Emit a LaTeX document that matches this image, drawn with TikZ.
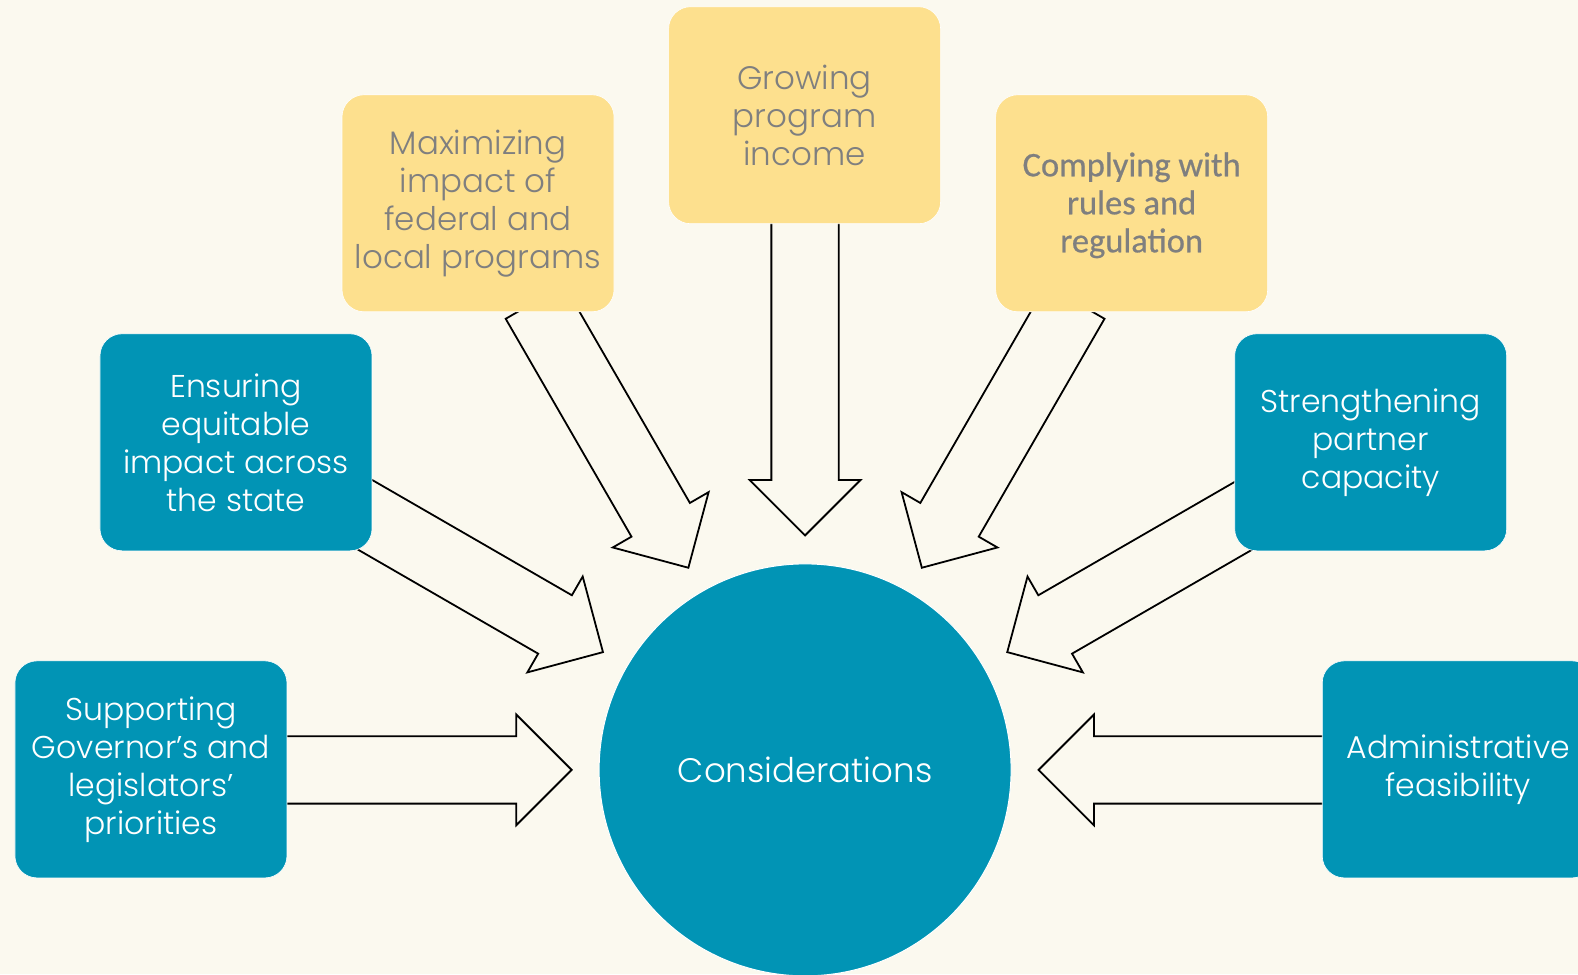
\documentclass[tikz,border=0pt]{standalone}
\usepackage{fontspec}
\setmainfont{Poppins Light}
\newfontfamily\calfont[FakeBold=0.6]{Carlito}
\definecolor{bgc}{HTML}{FBF9EF}
\definecolor{tealc}{HTML}{0194B5}
\definecolor{yelc}{HTML}{FDE08E}
\definecolor{grayt}{HTML}{7F7F7F}
\newcommand\blockarrow[4]{%
  \draw[arrowsty, shift={(#1)}, rotate=-#2]
    (0,-33.5) -- (#3,-33.5) -- (#3,-55) -- (#3+55,0) -- (#3,55) -- (#3,33.5) -- (0,33.5) -- cycle;
  \coordinate (#4) at (#1);}
\tikzset{
  box/.style={rounded corners=22pt, minimum width=272pt, minimum height=217pt, inner sep=0pt, draw=white, line width=0.6pt},
  yelbox/.style={box, fill=yelc},
  tealbox/.style={box, fill=tealc},
  lbl/.style={align=center, inner sep=0pt, font=\fontsize{31.5}{38}\selectfont},
  ylbl/.style={lbl, text=grayt, font=\fontsize{32.5}{38}\selectfont},
  tlbl/.style={lbl, text=white},
  arrowsty/.style={draw=black, line width=1.8pt, fill=bgc, line join=miter}
}
\begin{document}
\begin{tikzpicture}[x=1.0064pt,y=-1.0064pt]
\useasboundingbox (0,0) rectangle (1568,968);
\clip (0,0) rectangle (1568,968);
\fill[bgc] (0,0) rectangle (1568,968);
% arrows
\blockarrow{270,765}{0}{243}{a1}
\blockarrow{1330,765}{180}{243}{a2}
\blockarrow{800,210}{90}{267}{a3}
\blockarrow{531.5,300}{60}{250}{a4}
\blockarrow{1068.5,300}{120}{250}{a5}
\blockarrow{335,495.5}{30}{250}{a6}
\blockarrow{1265,495.5}{150}{250}{a7}
% circle
\node[circle, fill=tealc, draw=white, line width=1pt, minimum size=412pt, inner sep=0pt] (c) at (800,765) {};
\node[tlbl, font=\fontsize{34}{38}\selectfont] (ct) at (800,765) {Considerations};
% boxes
\node[yelbox] (y1) at (475,202) {};
\node[ylbl] at (y1.center) {Maximizing\\impact of\\federal and\\local programs};
\node[yelbox] (y2) at (799.5,114.5) {};
\node[ylbl] at (y2.center) {Growing\\program\\income};
\node[yelbox] (y3) at (1124.5,202) {};
\node[ylbl, font=\calfont\fontsize{34.5}{38}\selectfont, yshift=-2pt] at (y3.center) {Complying with\\rules and\\regulation};
\node[tealbox] (t1) at (234.5,439.5) {};
\node[tlbl] at (t1.center) {Ensuring\\equitable\\impact across\\the state};
\node[tealbox] (t2) at (1362,439.5) {};
\node[tlbl] at (t2.center) {Strengthening\\partner\\capacity};
\node[tealbox] (t3) at (150,764.5) {};
\node[tlbl] at (t3.center) {Supporting\\Governor’s and\\legislators’\\priorities};
\node[tealbox] (t4) at (1449,764.5) {};
\node[tlbl] at (t4.center) {Administrative\\feasibility};
\end{tikzpicture}
\end{document}
